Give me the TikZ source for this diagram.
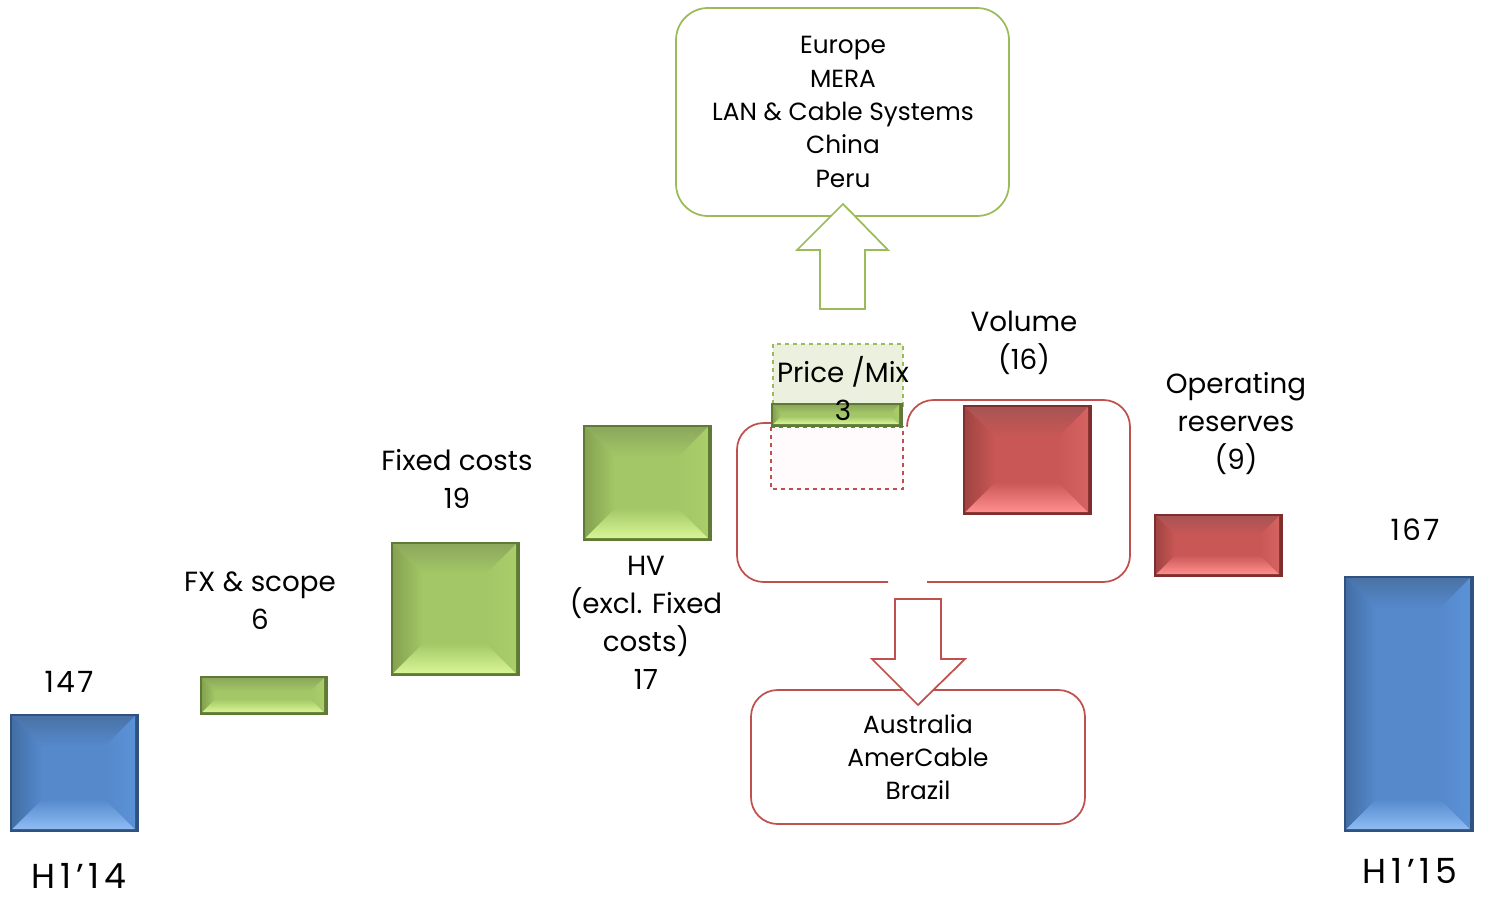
\documentclass[tikz,border=0pt]{standalone}
\usepackage{fontspec}
\setmainfont{Poppins}
\usetikzlibrary{fit}
\definecolor{gline}{HTML}{9BBB59}
\definecolor{rline}{HTML}{C0504D}
\definecolor{gpale}{HTML}{EBF1DE}
\definecolor{rpale}{HTML}{FFFAFB}
% blue bevel
\definecolor{blE}{HTML}{2F5281}
\definecolor{blF}{HTML}{5589CC}
\definecolor{blT}{HTML}{4A72A6}
\definecolor{blB}{HTML}{8EBCF4}
\definecolor{blL}{HTML}{4F82C2}
\definecolor{blR}{HTML}{5B92D6}
% green bevel
\definecolor{grE}{HTML}{5E7A34}
\definecolor{grF}{HTML}{A3C766}
\definecolor{grT}{HTML}{8CA85C}
\definecolor{grB}{HTML}{D8F596}
\definecolor{grL}{HTML}{9CBF5F}
\definecolor{grR}{HTML}{A9CD69}
% red bevel
\definecolor{rdE}{HTML}{7E2F2D}
\definecolor{rdF}{HTML}{C95755}
\definecolor{rdT}{HTML}{A85454}
\definecolor{rdB}{HTML}{FF8E8E}
\definecolor{rdL}{HTML}{BD504E}
\definecolor{rdR}{HTML}{D56362}
\newcommand\bevbox[7]{%
 \fill[#7E] (#2,#3) rectangle (#4,#5);
 \fill[#7F] (#2+2,#3+2) rectangle (#4-4,#5-3);
 \shade[top color=#7T, bottom color=#7F] (#2+2,#3+2) -- (#4-4,#3+2) -- (#4-4-#6,#3+2+#6) -- (#2+2+#6,#3+2+#6) -- cycle;
 \shade[top color=#7F, bottom color=#7B] (#2+2,#5-3) -- (#4-4,#5-3) -- (#4-4-#6,#5-3-#6) -- (#2+2+#6,#5-3-#6) -- cycle;
 \shade[left color=#7L!85!black, right color=#7F] (#2+2,#3+2) -- (#2+2+#6,#3+2+#6) -- (#2+2+#6,#5-3-#6) -- (#2+2,#5-3) -- cycle;
 \shade[left color=#7F, right color=#7R] (#4-4,#3+2) -- (#4-4-#6,#3+2+#6) -- (#4-4-#6,#5-3-#6) -- (#4-4,#5-3) -- cycle;
 \node[fit={(#2,#3)(#4,#5)},inner sep=0pt] (#1) {};
}
\tikzset{
 lbl/.style={font=\fontsize{20.8}{28.5}\selectfont, align=center, inner sep=0pt},
 big/.style={font=\fontsize{22}{28}\selectfont\addfontfeature{LetterSpace=8}, inner sep=0pt},
 bigger/.style={font=\fontsize{26}{30}\selectfont\addfontfeature{LetterSpace=14}, inner sep=0pt},
 boxtxt/.style={font=\fontsize{18.6}{25}\selectfont, align=center, inner sep=0pt},
 gbox/.style={draw=gline, line width=1.3pt, rounded corners=24pt, fill=white},
 rbox/.style={draw=rline, line width=1.3pt, rounded corners=20pt, fill=white},
 garrow/.style={draw=gline, line width=1.3pt, fill=white},
 rarrow/.style={draw=rline, line width=1.3pt, fill=white},
}
\begin{document}
\begin{tikzpicture}[x=0.75pt,y=-0.75pt]
\useasboundingbox (0,0) rectangle (1485,899);
\fill[white] (0,0) rectangle (1485,899);

% top green box and arrow
\draw[gbox] (676,8) rectangle (1009,216);
\node[boxtxt] (toptxt) at (843,112) {Europe\\MERA\\LAN \& Cable Systems\\China\\Peru};
\draw[garrow] (843,204) -- (888,250) -- (865,250) -- (865,309) -- (820,309) -- (820,250) -- (797,250) -- cycle;

% red outline group
\draw[rline, line width=1.3pt, rounded corners=20pt] (771,423) -- (737,423) -- (737,582) -- (888,582);
\draw[rline, line width=1.3pt, rounded corners=20pt] (927,582) -- (1130,582) -- (1130,400) -- (907,400) -- (907,425);

% bottom red box and arrow
\draw[rbox] (751,690) rectangle (1085,824);
\node[boxtxt] (bottxt) at (918,757) {Australia\\AmerCable\\Brazil};
\draw[rarrow] (895,599) -- (941,599) -- (941,659) -- (965,659) -- (918,705) -- (872,659) -- (895,659) -- cycle;

% bars
\bevbox{h14}{10}{714}{139}{832}{30}{bl}
\bevbox{fx}{200}{676}{328}{715}{13}{gr}
\bevbox{fixed}{391}{542}{520}{676}{30}{gr}
\bevbox{hv}{583}{425}{712}{541}{30}{gr}
\bevbox{vol}{963}{405}{1092}{515}{30}{rd}
\bevbox{opr}{1154}{514}{1283}{577}{19}{rd}
\bevbox{h15}{1344}{576}{1474}{832}{30}{bl}

% price / mix
\draw[gline, dashed, line width=1pt, fill=gpale] (773,344) rectangle (903,406);
\draw[rline, dashed, line width=1pt, fill=rpale] (771,427) rectangle (903,489);
\bevbox{pm}{771}{403}{903}{427}{8}{gr}
\node[lbl] (pmtxt) at (843,389) {Price /Mix\\3};

% labels
\node[big] (l147) at (69,682) {147};
\node[bigger] (lh14) at (79,876) {H1’14};
\node[lbl] (lfx) at (260,601) {FX \& scope\\6};
\node[lbl] (lfixed) at (457,479) {Fixed costs\\19};
\node[lbl] (lhv) at (646,623) {HV\\(excl. Fixed\\costs)\\17};
\node[lbl] (lvol) at (1024,343) {Volume\\(16)};
\node[lbl] (lopr) at (1236,424) {Operating\\reserves\\(9)};
\node[big] (l167) at (1415,530) {167};
\node[bigger] (lh15) at (1410,871) {H1’15};
\end{tikzpicture}
\end{document}
